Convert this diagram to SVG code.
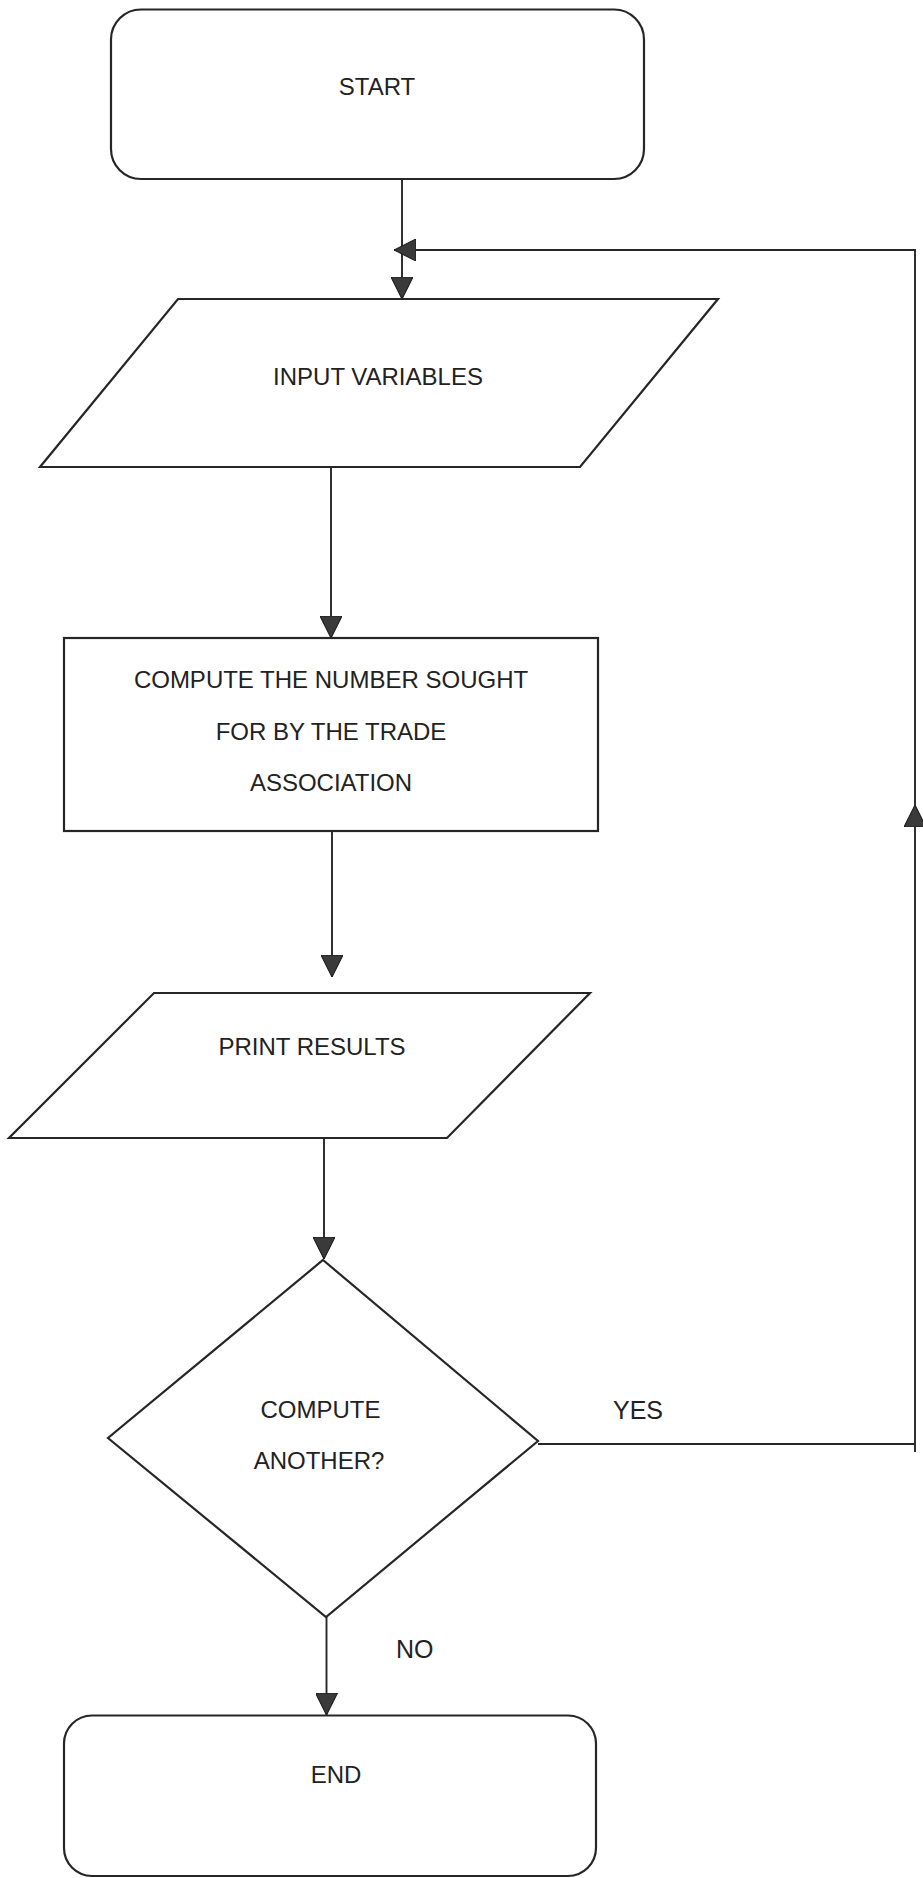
<svg xmlns="http://www.w3.org/2000/svg" width="923" height="1878" viewBox="0 0 923 1878">
  <style>
    .shape { fill: #ffffff; stroke: #262626; stroke-width: 2.2; stroke-linejoin: miter; }
    .conn { fill: none; stroke: #262626; stroke-width: 1.9; }
    .label { font-family: "Liberation Sans", Arial, sans-serif; font-size: 24px; fill: #222222; text-anchor: middle; }
    .branch { font-family: "Liberation Sans", Arial, sans-serif; font-size: 25px; fill: #222222; }
  </style>
  <defs>
    <marker id="arrow" markerUnits="userSpaceOnUse" markerWidth="22" markerHeight="22" viewBox="0 0 20 20" refX="20" refY="10" orient="auto">
      <path d="M0,0 L20,10 L0,20 Z" fill="#3a3a3a" stroke="#1e1e1e" stroke-width="1"/>
    </marker>
  </defs>

  <rect width="923" height="1878" fill="#ffffff"/>

  <!-- connectors -->
  <g id="connectors">
    <path class="conn" d="M402,179 V299" marker-end="url(#arrow)"/>
    <path class="conn" d="M331,467 V638" marker-end="url(#arrow)"/>
    <path class="conn" d="M332,831 V977" marker-end="url(#arrow)"/>
    <path class="conn" d="M324,1138 V1259" marker-end="url(#arrow)"/>
    <path class="conn" d="M326.5,1617 V1715" marker-end="url(#arrow)"/>
    <!-- YES branch loops back to the input step -->
    <path class="conn" d="M538,1444 H915"/>
    <path class="conn" d="M915,1452 V805" marker-end="url(#arrow)"/>
    <path class="conn" d="M915,806 V250 H394" marker-end="url(#arrow)"/>
  </g>

  <!-- nodes -->
  <g id="start">
    <rect class="shape" x="111" y="9.5" width="533" height="169.5" rx="30" ry="30"/>
    <text class="label" x="377" y="95">START</text>
  </g>

  <g id="input">
    <polygon class="shape" points="178,299 718,299 580,467 40,467"/>
    <text class="label" x="378" y="385">INPUT VARIABLES</text>
  </g>

  <g id="compute">
    <rect class="shape" x="64" y="638" width="534" height="193"/>
    <text class="label" x="331" y="688">COMPUTE THE NUMBER SOUGHT</text>
    <text class="label" x="331" y="740">FOR BY THE TRADE</text>
    <text class="label" x="331" y="791">ASSOCIATION</text>
  </g>

  <g id="print">
    <polygon class="shape" points="154,993 590,993 447,1138 9,1138"/>
    <text class="label" x="312" y="1055">PRINT RESULTS</text>
  </g>

  <g id="decision">
    <polygon class="shape" points="323,1260 538,1441 326,1617 108,1438"/>
    <text class="label" x="320.5" y="1418">COMPUTE</text>
    <text class="label" x="319" y="1469">ANOTHER?</text>
  </g>

  <g id="end">
    <rect class="shape" x="64" y="1715.5" width="532" height="160.5" rx="28" ry="28"/>
    <text class="label" x="336" y="1783">END</text>
  </g>

  <g id="branch-labels">
    <text class="branch" x="613" y="1419">YES</text>
    <text class="branch" x="396" y="1658">NO</text>
  </g>
</svg>
